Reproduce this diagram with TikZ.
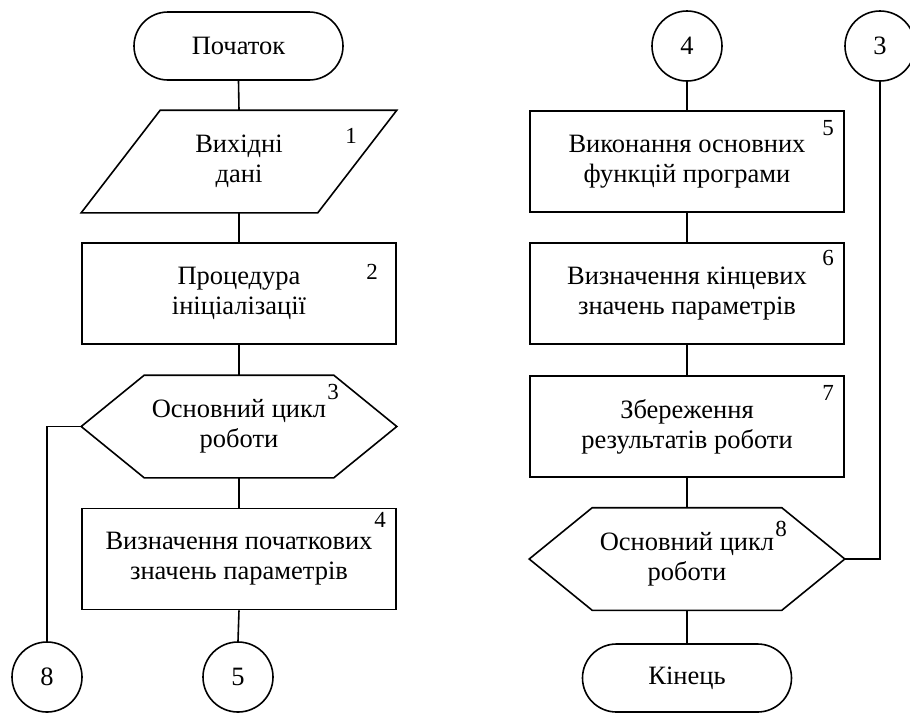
\documentclass[tikz,border=0pt]{standalone}
\usepackage{fontspec}
\setmainfont{Liberation Serif}
\usetikzlibrary{calc}
\begin{document}
\begin{tikzpicture}[x=1pt,y=-1pt, line width=1.6pt,
  every node/.style={font=\fontsize{26.5}{30}\selectfont, align=center, inner sep=0pt},
  term/.style={draw, rectangle, rounded corners=34pt, minimum width=209pt, minimum height=68pt},
  proc/.style={draw, rectangle, minimum width=314pt, minimum height=101pt},
  frame/.style={rectangle, minimum width=314pt, minimum height=101pt},
  conn/.style={draw, circle, minimum size=70pt},
  num/.style={font=\fontsize{23}{25}\selectfont}
]
\useasboundingbox (0,0) rectangle (910,713);

% left column
\node[term] (start) at (238.5,46) {Початок};
\node[frame] (io) at (239,161.5) {Вихідні\\дані};
\draw ($(io.north west)+(79,0)$) -- (io.north east) -- ($(io.south east)+(-79,0)$) -- (io.south west) -- cycle;
\node[proc] (p2) at (239,293.5) {Процедура\\ініціалізації};
\node[frame] (h3) at (239,426.5) {Основний цикл\\роботи};
\draw ($(h3.north west)+(63,0)$) -- ($(h3.north east)+(-63,0)$) -- (h3.east) -- ($(h3.south east)+(-63,0)$) -- ($(h3.south west)+(63,0)$) -- (h3.west) -- cycle;
\node[proc] (p4) at (239,559) {Визначення початкових\\значень параметрів};
\node[conn] (c8) at (47,677) {8};
\node[conn] (c5) at (238,677) {5};

% right column
\node[conn] (c4) at (687,46) {4};
\node[conn] (c3) at (880,46) {3};
\node[proc] (p5) at (687,161.5) {Виконання основних\\функцій програми};
\node[proc] (p6) at (687,293.5) {Визначення кінцевих\\значень параметрів};
\node[proc] (p7) at (687,426.5) {Збереження\\результатів роботи};
\node[frame] (h8) at (687,559) {Основний цикл\\роботи};
\draw ($(h8.north west)+(63,0)$) -- ($(h8.north east)+(-63,0)$) -- (h8.east) -- ($(h8.south east)+(-63,0)$) -- ($(h8.south west)+(63,0)$) -- (h8.west) -- cycle;
\node[term] (end) at (687,678) {Кінець};

% numbers
\node[num] (n1) at (351,136) {1};
\node[num] (n2) at (372,272) {2};
\node[num] (n3) at (333,392) {3};
\node[num] (n4) at (380,520) {4};
\node[num] (n5) at (828,128) {5};
\node[num] (n6) at (828,258) {6};
\node[num] (n7) at (828,393) {7};
\node[num] (n8) at (781,529) {8};

% connectors
\draw (start.south) -- (io.north);
\draw (io.south) -- (p2.north);
\draw (p2.south) -- (h3.north);
\draw (h3.south) -- (p4.north);
\draw (p4.south) -- (c5.north);
\draw (h3.west) -| (c8.north);
\draw (c4.south) -- (p5.north);
\draw (p5.south) -- (p6.north);
\draw (p6.south) -- (p7.north);
\draw (p7.south) -- (h8.north);
\draw (h8.south) -- (end.north);
\draw (h8.east) -| (c3.south);
\end{tikzpicture}
\end{document}
